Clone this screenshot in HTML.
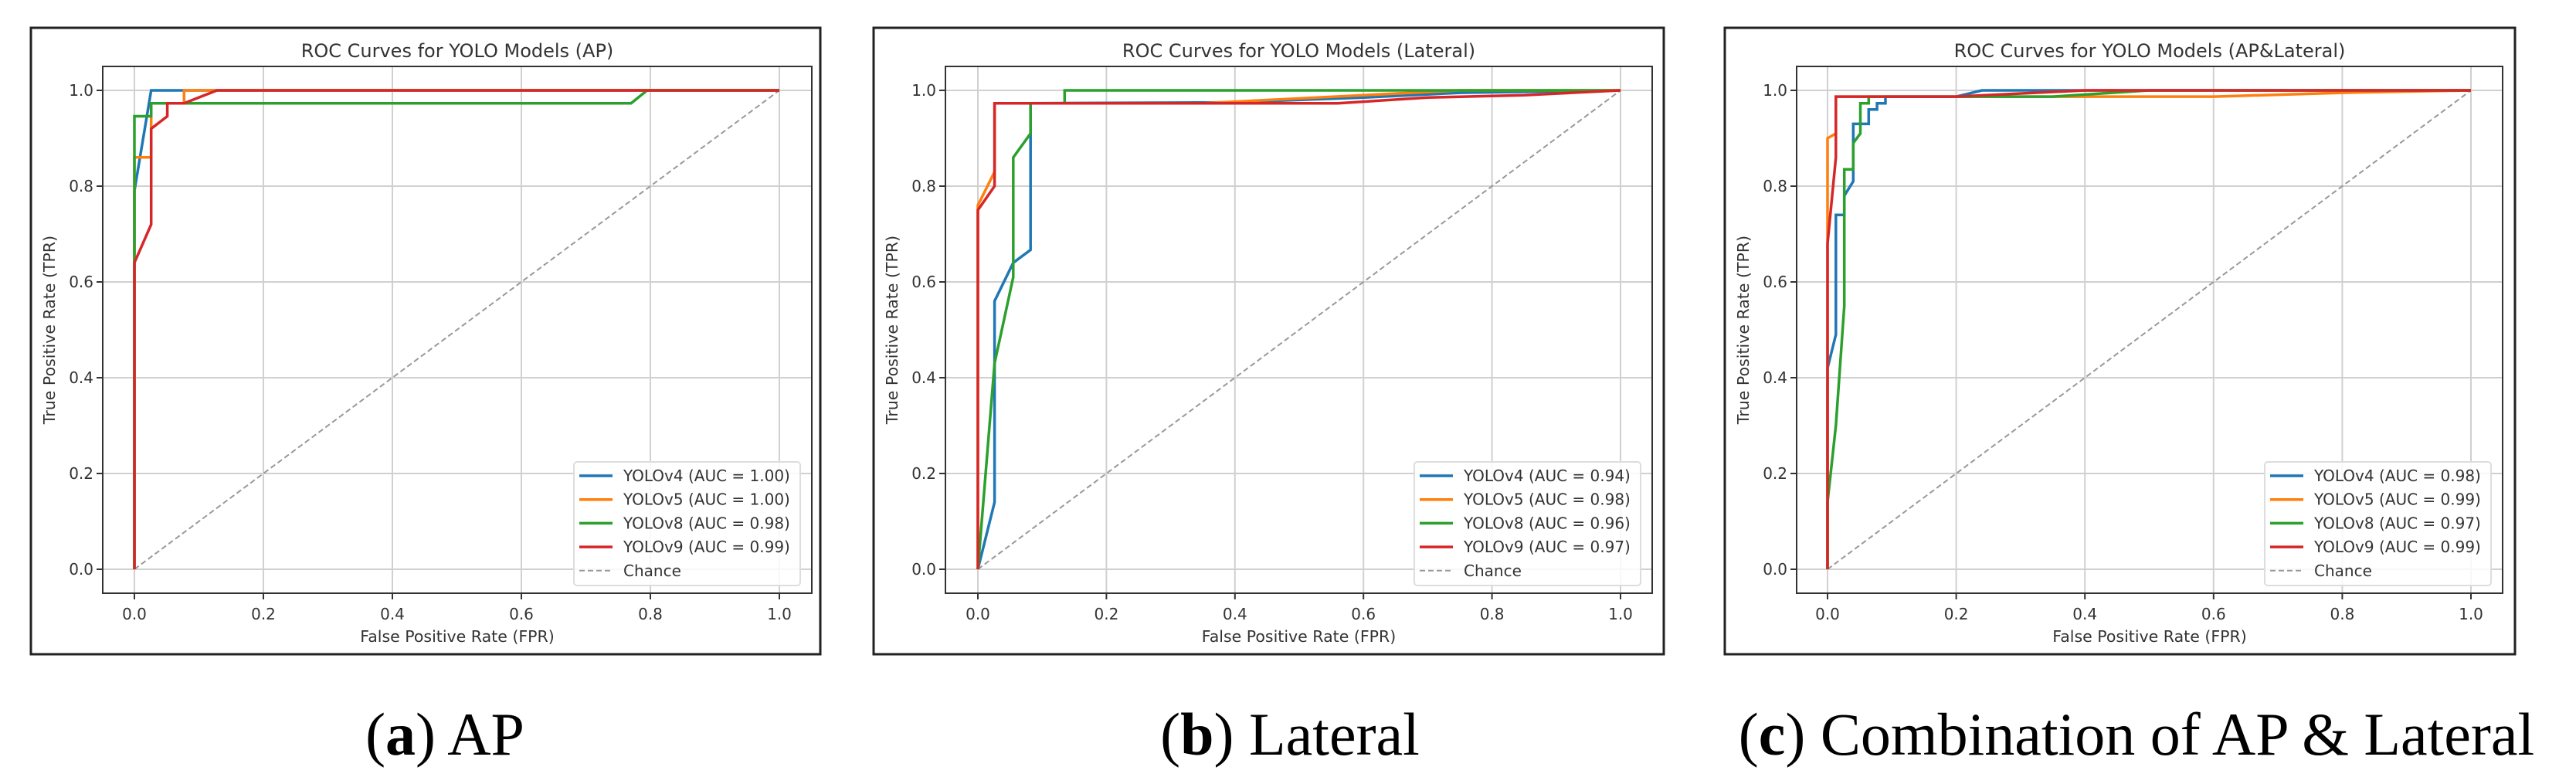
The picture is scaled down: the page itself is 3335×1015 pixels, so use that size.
<!DOCTYPE html>
<html><head><meta charset="utf-8"><style>
html,body{margin:0;padding:0;background:#fff;}
svg{display:block;}
</style></head><body>
<svg id="fig" width="3335" height="1015" viewBox="0 0 3335 1015" xmlns="http://www.w3.org/2000/svg"></svg>
<script>
// ---- data ----
const panelTitles = ["ROC Curves for YOLO Models (AP)", "ROC Curves for YOLO Models (Lateral)", "ROC Curves for YOLO Models (AP&Lateral)"];
const captionLetters = ["a", "b", "c"];
const captionTexts = [" AP", " Lateral", " Combination of AP & Lateral"];
const seriesNames = ["YOLOv4", "YOLOv5", "YOLOv8", "YOLOv9"];
const aucAP = ["1.00", "1.00", "0.98", "0.99"];
const aucLat = ["0.94", "0.98", "0.96", "0.97"];
const aucComb = ["0.98", "0.99", "0.97", "0.99"];
const tickValues = [0, 0.2, 0.4, 0.6, 0.8, 1.0];
const tickLabels = ["0.0", "0.2", "0.4", "0.6", "0.8", "1.0"];
// AP curves: [fpr, tpr]
const apV4 = [[0,0],[0,0.79],[0.026,1],[1,1]];
const apV5 = [[0,0],[0,0.86],[0.026,0.86],[0.026,0.973],[0.077,0.973],[0.077,1],[1,1]];
const apV8 = [[0,0],[0,0.946],[0.026,0.946],[0.026,0.973],[0.77,0.973],[0.795,1],[1,1]];
const apV9 = [[0,0],[0,0.64],[0.026,0.72],[0.026,0.92],[0.051,0.946],[0.051,0.973],[0.077,0.973],[0.128,1],[1,1]];
// Lateral curves
const latV4 = [[0,0],[0.026,0.14],[0.026,0.56],[0.055,0.64],[0.082,0.667],[0.082,0.973],[0.4,0.975],[0.6,0.985],[0.75,0.995],[1,1]];
const latV5 = [[0,0],[0,0.76],[0.026,0.83],[0.026,0.973],[0.35,0.973],[0.6,0.99],[0.75,1],[1,1]];
const latV8 = [[0,0],[0.026,0.43],[0.055,0.61],[0.055,0.86],[0.082,0.91],[0.082,0.973],[0.135,0.973],[0.135,1],[1,1]];
const latV9 = [[0,0],[0,0.75],[0.026,0.8],[0.026,0.973],[0.56,0.973],[0.7,0.985],[0.85,0.99],[1,1]];
// Combined curves
const cmbV4 = [[0,0],[0,0.42],[0.013,0.49],[0.013,0.74],[0.026,0.74],[0.026,0.78],[0.04,0.81],[0.04,0.93],[0.064,0.93],[0.064,0.96],[0.077,0.96],[0.077,0.973],[0.09,0.973],[0.09,0.987],[0.2,0.987],[0.24,1],[1,1]];
const cmbV5 = [[0,0],[0,0.9],[0.013,0.91],[0.013,0.987],[0.6,0.987],[0.8,0.995],[1,1]];
const cmbV8 = [[0,0],[0,0.14],[0.013,0.3],[0.026,0.55],[0.026,0.835],[0.04,0.835],[0.04,0.89],[0.051,0.91],[0.051,0.973],[0.064,0.973],[0.064,0.987],[0.35,0.987],[0.5,1],[1,1]];
const cmbV9 = [[0,0],[0,0.68],[0.013,0.86],[0.013,0.987],[0.2,0.987],[0.4,1],[1,1]];

const colors = ["#1f77b4","#ff7f0e","#2ca02c","#d62728"];
const NS = "http://www.w3.org/2000/svg";
const svg = document.getElementById("fig");
function mk(tag, attrs, parent){const e=document.createElementNS(NS,tag);for(const k in attrs)e.setAttribute(k,attrs[k]);(parent||svg).appendChild(e);return e;}

const layouts = [
  {bl:40, br:1062, x0:174, x1:1009, axL:133, axR:1051, capX:576},
  {bl:1131, br:2154, x0:1266, x1:2098, axL:1224, axR:2139, capX:1670},
  {bl:2233, br:3256, x0:2366, x1:3199, axL:2326, axR:3240, capX:2766}
];
const bt=36, bb=847, y0=737, y1=117, axT=86, axB=768;
const allSeries = [[apV4,apV5,apV8,apV9],[latV4,latV5,latV8,latV9],[cmbV4,cmbV5,cmbV8,cmbV9]];
const allAuc = [aucAP, aucLat, aucComb];
const font = '"DejaVu Sans","Liberation Sans",sans-serif';

layouts.forEach((L,p)=>{
  const g = mk("g",{});
  
  
  const sx = v => L.x0 + (L.x1-L.x0)*v;
  const sy = v => y0 - (y0-y1)*v;
  const border = mk("rect",{x:L.bl,y:bt,width:L.br-L.bl,height:bb-bt,fill:"#fff",stroke:"#222","stroke-width":3},g);
  
  
  const title = mk("text",{x:(L.axL+L.axR)/2,y:74,"text-anchor":"middle","font-family":font,"font-size":24,fill:"#333"},g);
  title.textContent = panelTitles[p];
  
  
  tickValues.forEach((t,i)=>{
    const gx = mk("line",{x1:sx(t),x2:sx(t),y1:axT,y2:axB,stroke:"#d0d0d0","stroke-width":2},g);
    
    
    const gy = mk("line",{x1:L.axL,x2:L.axR,y1:sy(t),y2:sy(t),stroke:"#d0d0d0","stroke-width":2},g);
    
    
    mk("line",{x1:sx(t),x2:sx(t),y1:axB,y2:axB+8,stroke:"#333","stroke-width":2},g);
    mk("line",{x1:L.axL-8,x2:L.axL,y1:sy(t),y2:sy(t),stroke:"#333","stroke-width":2},g);
    const xl = mk("text",{x:sx(t),y:802,"text-anchor":"middle","font-family":font,"font-size":20,fill:"#333"},g);
    xl.textContent = tickLabels[i];
    
    
    const yl = mk("text",{x:L.axL-12,y:sy(t)+7,"text-anchor":"end","font-family":font,"font-size":20,fill:"#333"},g);
    yl.textContent = tickLabels[i];
    
    
  });
  const ch = mk("line",{x1:sx(0),y1:sy(0),x2:sx(1),y2:sy(1),stroke:"#999","stroke-width":2,"stroke-dasharray":"7,4"},g);
  
  
  allSeries[p].forEach((pts,si)=>{
    const d = pts.map((pt,k)=>(k?"L":"M")+sx(pt[0]).toFixed(1)+","+sy(pt[1]).toFixed(1)).join(" ");
    const path = mk("path",{d:d,fill:"none",stroke:colors[si],"stroke-width":3.5,"stroke-linejoin":"miter"},g);
    
    
  });
  const fr = mk("rect",{x:L.axL,y:axT,width:L.axR-L.axL,height:axB-axT,fill:"none",stroke:"#333","stroke-width":2},g);
  
  
  const xt = mk("text",{x:(L.axL+L.axR)/2,y:831,"text-anchor":"middle","font-family":font,"font-size":20.5,fill:"#333"},g);
  xt.textContent = "False Positive Rate (FPR)";
  
  
  const yx = L.axL-62, yy=(axT+axB)/2;
  const yt = mk("text",{x:yx,y:yy,"text-anchor":"middle","font-family":font,"font-size":20.5,fill:"#333",transform:`rotate(-90 ${yx} ${yy})`},g);
  yt.textContent = "True Positive Rate (TPR)";
  
  
  const lx = L.axR-308, ly=598;
  const lg = mk("g",{},g);
  
  
  mk("rect",{x:lx,y:ly,width:293,height:160,rx:4,fill:"#fff","fill-opacity":0.85,stroke:"#ddd","stroke-width":2},lg);
  const labels = seriesNames.map((n,i)=>`${n} (AUC = ${allAuc[p][i]})`).concat(["Chance"]);
  labels.forEach((lab,i)=>{
    const ey = 616 + i*30.7;
    const le = mk("g",{},lg);
    
    
    if(i<4) mk("line",{x1:lx+7,x2:lx+50,y1:ey,y2:ey,stroke:colors[i],"stroke-width":3.5},le);
    else mk("line",{x1:lx+7,x2:lx+50,y1:ey,y2:ey,stroke:"#999","stroke-width":2,"stroke-dasharray":"7,4"},le);
    const t = mk("text",{x:lx+64,y:ey+7,"font-family":font,"font-size":20,fill:"#333"},le);
    t.textContent = lab;
  });
  const cap = mk("text",{x:L.capX,y:977,"text-anchor":"middle","font-family":'"Liberation Serif",serif',"font-size":78,fill:"#000"});
  
  
  const s1 = mk("tspan",{},cap); s1.textContent="(";
  const s2 = mk("tspan",{"font-weight":"bold"},cap); s2.textContent=captionLetters[p];
  const s3 = mk("tspan",{},cap); s3.textContent=")"+captionTexts[p];
});
</script>
</body></html>
